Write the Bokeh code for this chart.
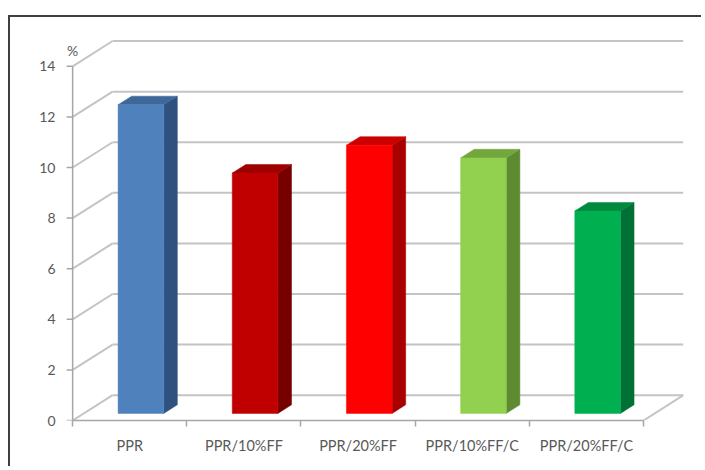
from bokeh.plotting import figure
from bokeh.models import FixedTicker, Label
from bokeh.embed import file_html
from bokeh.resources import INLINE

# ---- data ----
categories = ["PPR", "PPR/10%FF", "PPR/20%FF", "PPR/10%FF/C", "PPR/20%FF/C"]
values = [12.2, 9.5, 10.6, 10.1, 8.0]
y_ticks = [0, 2, 4, 6, 8, 10, 12, 14]
y_unit = "%"

front_colors = ["#4F81BD", "#C00000", "#FF0000", "#92D050", "#00B050"]
top_colors = ["#3E679A", "#9E0000", "#CC0000", "#73A63D", "#00883D"]
side_colors = ["#2F5180", "#760000", "#A80000", "#5E8A32", "#007034"]

# ---- 3D look (styling constants) ----
DX = 0.35      # depth offset along x (category units)
DY = 1.0       # depth offset along y (value units)
T0, T1 = 0.28, 0.62   # bar depth span (fraction of full depth)
HALF_W = 0.2
PAD = 0.08     # room left of the value axis inside the frame
TICK = 0.0525  # value-axis tick length (category units)
n = len(categories)
ymax = y_ticks[-1]

GRID = "#C4C4C4"
AXIS = "#A6A6A6"
TXT = "#595959"
FONT = "Lato"

p = figure(width=693, height=451,
           x_range=(-PAD, n + DX), y_range=(0, ymax + DY + 0.1),
           output_backend="svg", toolbar_location=None,
           min_border_left=53, min_border_top=21,
           min_border_right=20, min_border_bottom=48,
           background_fill_color="white", border_fill_color="white",
           outline_line_color=None,
           styles={"margin-left": "8px", "margin-top": "15px",
                   "border-left": "2px solid #3F3F3F",
                   "border-top": "2px solid #3F3F3F"})
p.grid.visible = False

# back wall gridlines
p.segment(x0=[DX] * len(y_ticks), y0=[v + DY for v in y_ticks],
          x1=[n + DX] * len(y_ticks), y1=[v + DY for v in y_ticks],
          line_color=GRID, line_width=2)
# side wall diagonals
p.segment(x0=[0] * len(y_ticks), y0=y_ticks,
          x1=[DX] * len(y_ticks), y1=[v + DY for v in y_ticks],
          line_color=GRID, line_width=2)
# floor right edge
p.segment(x0=[n], y0=[0], x1=[n + DX], y1=[DY], line_color=GRID, line_width=2)

# value axis line and tick marks (front plane)
p.segment(x0=[0], y0=[0], x1=[0], y1=[ymax], line_color=AXIS, line_width=1.5)
p.segment(x0=[-TICK] * len(y_ticks), y0=y_ticks, x1=[0] * len(y_ticks), y1=y_ticks,
          line_color=AXIS, line_width=1.5)

# bars
fx, fy, sx, sy, tx, ty = [], [], [], [], [], []
for i, v in enumerate(values):
    c = i + 0.5
    x0 = c - HALF_W + T0 * DX
    x1 = c + HALF_W + T0 * DX
    ox = (T1 - T0) * DX
    b0 = T0 * DY
    b1 = T1 * DY
    fx.append([x0, x1, x1, x0]); fy.append([b0, b0, v + b0, v + b0])
    sx.append([x1, x1 + ox, x1 + ox, x1]); sy.append([b0, b1, v + b1, v + b0])
    tx.append([x0, x1, x1 + ox, x0 + ox]); ty.append([v + b0, v + b0, v + b1, v + b1])

p.patches(sx, sy, fill_color=side_colors, line_color=side_colors, line_width=0.5)
p.patches(tx, ty, fill_color=top_colors, line_color=top_colors, line_width=0.5)
p.patches(fx, fy, fill_color=front_colors, line_color=front_colors, line_width=0.5)

# category axis
xa = p.xaxis[0]
xa.ticker = FixedTicker(ticks=[i + 0.5 for i in range(n)], minor_ticks=list(range(n + 1)))
xa.major_label_overrides = {i + 0.5: cat for i, cat in enumerate(categories)}
xa.bounds = (0, n)
xa.axis_line_color = AXIS
xa.axis_line_width = 1.5
xa.major_tick_line_color = None
xa.major_tick_out = 0
xa.major_tick_in = 0
xa.minor_tick_line_color = AXIS
xa.minor_tick_line_width = 1.5
xa.minor_tick_out = 6
xa.minor_tick_in = 0
xa.major_label_standoff = 10
xa.major_label_text_font = FONT
xa.major_label_text_font_size = "14.5px"
xa.major_label_text_color = TXT

# value axis (labels)
ya = p.yaxis[0]
ya.ticker = FixedTicker(ticks=y_ticks, minor_ticks=[])
ya.bounds = (0, ymax)
ya.axis_line_color = None
ya.major_tick_line_color = None
ya.major_tick_out = 0
ya.major_tick_in = 0
ya.minor_tick_line_color = None
ya.major_label_standoff = 8
ya.major_label_text_font = FONT
ya.major_label_text_font_size = "14px"
ya.major_label_text_color = TXT

# unit label ("%") at the top of the value axis
p.add_layout(Label(x=0, y=ymax + 0.62, text=y_unit,
                   text_align="center", text_baseline="middle",
                   text_font=FONT, text_font_size="14px", text_color=TXT))

open("out.html", "w").write(file_html(p, INLINE))
